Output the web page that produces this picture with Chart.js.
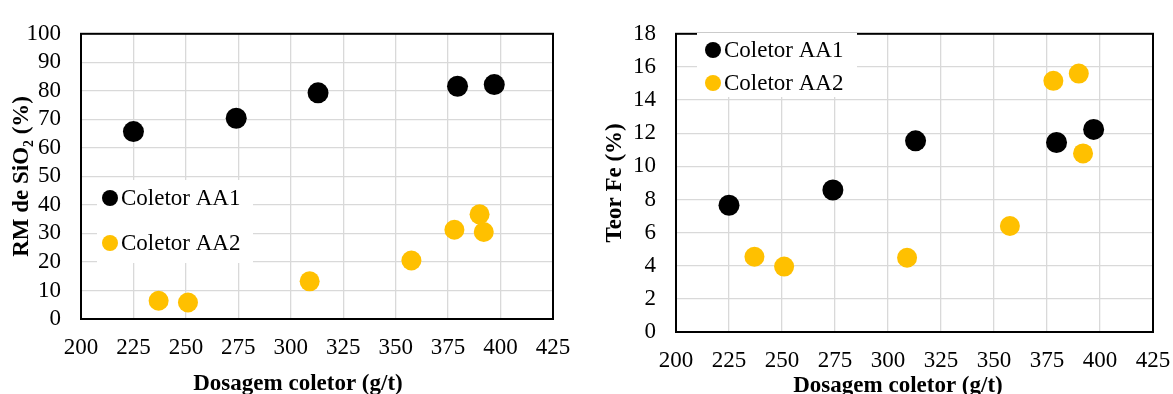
<!DOCTYPE html>
<html>
<head>
<meta charset="utf-8">
<script src="https://cdn.jsdelivr.net/npm/chart.js@4.4.0/dist/chart.umd.min.js"></script>
<style>
  html, body { margin: 0; padding: 0; background: #fff; }
  #wrap { position: relative; width: 1173px; height: 394px; }
  .box { position: absolute; top: 0; height: 394px; }
  #boxRM { left: 0; width: 590px; }
  #boxFe { left: 590px; width: 583px; }
</style>
</head>
<body>
<div id="wrap">
  <div class="box" id="boxRM"><canvas id="chartRM"></canvas></div>
  <div class="box" id="boxFe"><canvas id="chartFe"></canvas></div>
</div>
<script>
// dados
const doseAA1 = [225, 274, 313, 379.5, 397];
const doseAA2 = [237, 251, 309, 357.5, 378, 390, 392];
const rmAA1 = [65.7, 70.4, 79.3, 81.6, 82.2];
const rmAA2 = [6.4, 5.8, 13.2, 20.5, 31.3, 36.7, 30.5];
const feAA1 = [7.65, 8.57, 11.54, 11.44, 12.23];
const feAA2 = [4.54, 3.95, 4.48, 6.4, 15.16, 15.6, 10.78];

const xTicks = [200, 225, 250, 275, 300, 325, 350, 375, 400, 425];
const rmTicks = [0, 10, 20, 30, 40, 50, 60, 70, 80, 90, 100];
const feTicks = [0, 2, 4, 6, 8, 10, 12, 14, 16, 18];

const serie1 = 'Coletor AA1';
const serie2 = 'Coletor AA2';
const corAA1 = '#000000';
const corAA2 = '#FFC000';
const fonte = '"Liberation Serif", "Times New Roman", serif';

function pares(xs, ys) {
  return xs.map((x, i) => ({ x: x, y: ys[i] }));
}

// borda, legenda e título do eixo x desenhados à mão
const extras = {
  id: 'extras',
  afterDraw(chart, args, opts) {
    const ctx = chart.ctx;
    const a = chart.chartArea;
    ctx.save();
    // borda da área do gráfico
    ctx.strokeStyle = '#000';
    ctx.lineWidth = 2;
    ctx.strokeRect(a.left, a.top, a.right - a.left, a.bottom - a.top);

    // legenda dentro do gráfico
    const lg = opts.legend;
    ctx.fillStyle = '#fff';
    ctx.fillRect(lg.x, lg.y, lg.w, lg.h);
    ctx.font = '23px ' + fonte;
    ctx.textAlign = 'left';
    ctx.textBaseline = 'middle';
    chart.data.datasets.forEach((ds, i) => {
      const cy = lg.firstY + i * lg.gap;
      ctx.fillStyle = ds.backgroundColor;
      ctx.beginPath();
      ctx.arc(lg.markX, cy, 8, 0, Math.PI * 2);
      ctx.fill();
      ctx.fillStyle = '#000';
      ctx.fillText(ds.label, lg.markX + 11, cy + 1);
    });

    // título do eixo x
    ctx.font = 'bold 23px ' + fonte;
    ctx.textAlign = 'center';
    ctx.fillStyle = '#000';
    ctx.fillText(opts.xTitle.text, opts.xTitle.x, opts.xTitle.y);
    ctx.restore();
  }
};

function makeChart(id, ys1, ys2, yTicks, yTitle, lay) {
  const ctx = document.getElementById(id).getContext('2d');
  return new Chart(ctx, {
    type: 'scatter',
    data: {
      datasets: [{
        label: serie1,
        data: pares(doseAA1, ys1),
        backgroundColor: corAA1,
        borderWidth: 0,
        pointRadius: 10.5,
        pointHoverRadius: 10.5
      }, {
        label: serie2,
        data: pares(doseAA2, ys2),
        backgroundColor: corAA2,
        borderWidth: 0,
        pointRadius: 10,
        pointHoverRadius: 10
      }]
    },
    options: {
      responsive: true,
      maintainAspectRatio: false,
      animation: false,
      events: [],
      layout: { padding: { left: 0, right: lay.padRight, top: lay.padTop, bottom: 0 } },
      plugins: {
        legend: { display: false },
        tooltip: { enabled: false },
        extras: { legend: lay.legend, xTitle: lay.xTitle }
      },
      scales: {
        x: {
          type: 'linear',
          min: xTicks[0],
          max: xTicks[xTicks.length - 1],
          afterBuildTicks: s => { s.ticks = xTicks.map(v => ({ value: v })); },
          afterFit: s => {
            s.height = lay.xHeight;
            s.paddingLeft = 0;
            s.paddingRight = 0;
          },
          grid: { color: '#d9d9d9', lineWidth: 1.3, drawTicks: false },
          border: { display: false },
          ticks: { color: '#000', autoSkip: false, maxRotation: 0, padding: lay.xTickPad, font: { family: fonte, size: 23 } }
        },
        y: {
          min: yTicks[0],
          max: yTicks[yTicks.length - 1],
          afterBuildTicks: s => { s.ticks = yTicks.map(v => ({ value: v })); },
          afterFit: s => { s.width = lay.yWidth; },
          grid: { color: '#d9d9d9', lineWidth: 1.3, drawTicks: false },
          border: { display: false },
          ticks: { color: '#000', autoSkip: false, padding: lay.yTickPad, font: { family: fonte, size: 23 } },
          title: {
            display: true,
            text: yTitle,
            color: '#000',
            padding: { top: lay.yTitlePad, bottom: 0 },
            font: { family: fonte, size: 23, weight: 'bold', lineHeight: 1 }
          }
        }
      }
    },
    plugins: [extras]
  });
}

makeChart('chartRM', rmAA1, rmAA2, rmTicks, 'RM de SiO\u2082 (%)', {
  padRight: 37, padTop: 25, xHeight: 75, yWidth: 81,
  xTickPad: 15, yTickPad: 20, yTitlePad: 11,
  legend: { x: 97, y: 180, w: 156, h: 83, markX: 110, firstY: 198, gap: 45 },
  xTitle: { text: 'Dosagem coletor (g/t)', x: 298, y: 384 }
});

makeChart('chartFe', feAA1, feAA2, feTicks, 'Teor Fe (%)', {
  padRight: 20, padTop: 25, xHeight: 62, yWidth: 86,
  xTickPad: 15, yTickPad: 20, yTitlePad: 14,
  legend: { x: 107, y: 33, w: 160, h: 64, markX: 123, firstY: 50, gap: 33 },
  xTitle: { text: 'Dosagem coletor (g/t)', x: 308, y: 386 }
});
</script>
</body>
</html>
